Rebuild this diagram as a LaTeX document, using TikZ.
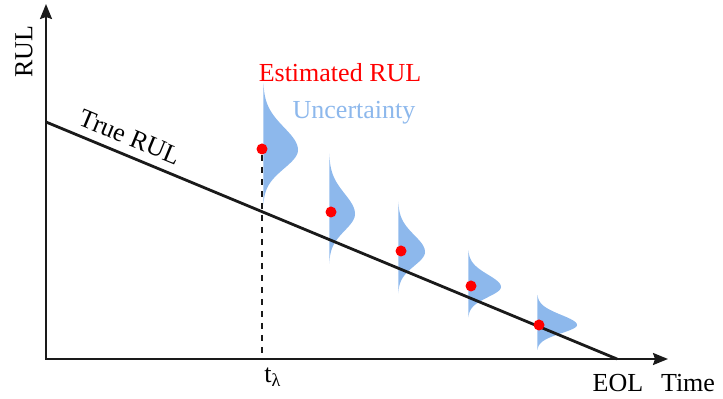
\documentclass[tikz,border=0pt]{standalone}
\usepackage{fontspec}
\setmainfont{Liberation Serif}
\usepackage{tikz}
\usetikzlibrary{arrows.meta,calc,positioning}
\definecolor{RulRed}{HTML}{FF0000}
\definecolor{RulBlue}{HTML}{8DB8EC}
\definecolor{RulInk}{HTML}{1A1A1A}
\tikzset{
  >={Stealth[length=7.5pt,width=6pt,inset=1pt]},
  axis/.style={line width=1pt,draw=RulInk},
  trueline/.style={line width=1.4pt,draw=RulInk},
  guide/.style={line width=1pt,draw=RulInk,dash pattern=on 3pt off 3pt},
  estdot/.style={circle,fill=RulRed,inner sep=0pt,minimum size=5.5pt},
  pdfshape/.style={fill=RulBlue},
  lbl/.style={font=\fontsize{13}{15}\selectfont,inner sep=0pt}
}
% x0, y centre, spread, peak width
\newcommand{\uncert}[4]{%
  \fill[pdfshape] plot[domain=-3:3,samples=61,smooth]
    ({#1+#4*exp(-0.5*(\x)^2)},{#2+#3*(\x)*(\x<0 ? 1.12 : 0.92)}) -- cycle;}

\begin{document}
\begin{tikzpicture}[x=0.5pt,y=-0.5pt]
    \useasboundingbox (0,0) rectangle (723,399);
    % uncertainty shapes
    \uncert{263}{150}{20}{35}
    \uncert{329}{214}{18}{26}
    \uncert{398}{252}{15}{27}
    \uncert{468}{287}{11}{33}
    \uncert{537}{325}{9}{40}
    % axes and true RUL
    \coordinate (O) at (46,359);
    \coordinate (ytip) at (46,4);
    \coordinate (xtip) at (668,359);
    \draw[axis,<->] (ytip) -- (O) -- (xtip);
    \coordinate (rul0) at (46,122);
    \coordinate (eolpt) at (617,359);
    \draw[trueline] (rul0) -- (eolpt);
    % estimates
    \node[estdot] (est1) at (262,149) {};
    \node[estdot] (est2) at (331,212) {};
    \node[estdot] (est3) at (401,251) {};
    \node[estdot] (est4) at (471,286) {};
    \node[estdot] (est5) at (539,325) {};
    \coordinate (tl) at (262,359);
    \draw[guide] (est1) -- (tl);
    % labels
    \node[lbl,rotate=90] (ylabel) at (24,52) {RUL};
    \node[lbl,rotate=-22.5] (truelbl) at (130,137) {True RUL};
    \node[lbl,text=RulRed] (estlbl) at (340,73) {Estimated RUL};
    \node[lbl,text=RulBlue] (unclbl) at (354,113) {Uncertainty};
    \node[lbl] (tlbl) at (273,377) {t\textsubscript{λ}};
    \node[lbl] (eol) at (618,383) {EOL};
    \node[lbl] (timelbl) at (688,383) {Time};
\end{tikzpicture}
\end{document}
